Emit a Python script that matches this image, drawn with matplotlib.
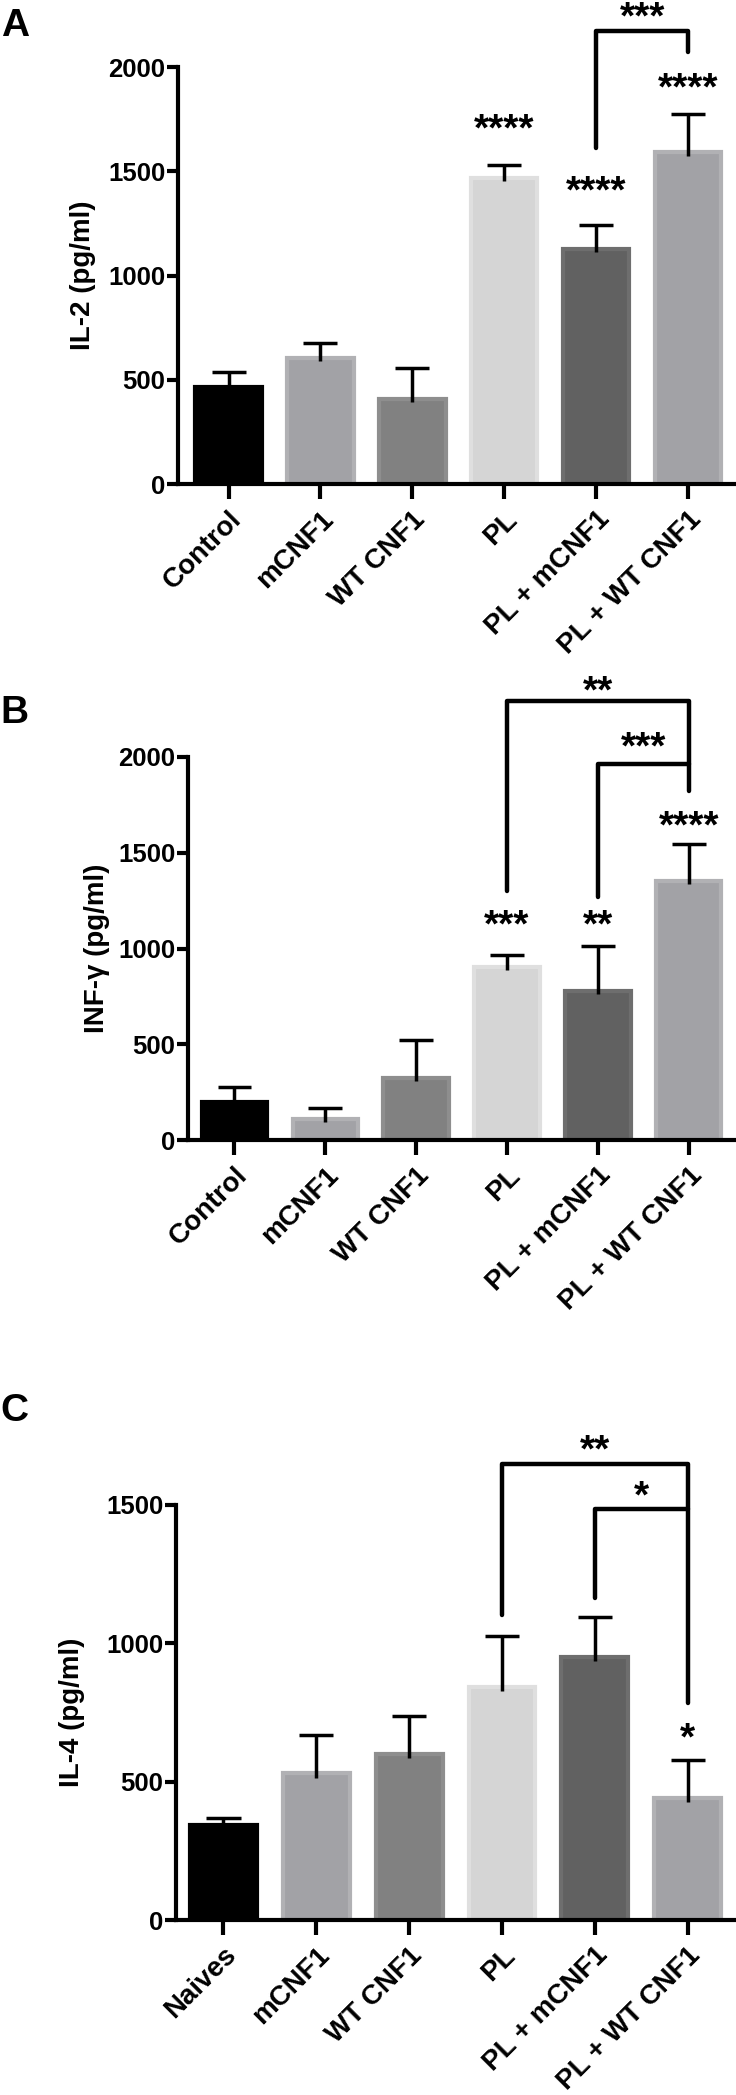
import matplotlib.pyplot as plt
import numpy as np

plt.rcParams['font.family'] = ['Liberation Sans', 'DejaVu Sans']
plt.rcParams['font.weight'] = 'bold'

groups_ab = ['Control', 'mCNF1', 'WT CNF1', 'PL', 'PL + mCNF1', 'PL + WT CNF1']
groups_c = ['Naives', 'mCNF1', 'WT CNF1', 'PL', 'PL + mCNF1', 'PL + WT CNF1']

il2_mean = [463, 606, 408, 1470, 1129, 1590]
il2_err = [75, 69, 146, 61, 113, 185]
inf_mean = [200, 109, 325, 903, 776, 1354]
inf_err = [78, 56, 199, 61, 238, 191]
il4_mean = [344, 530, 601, 843, 952, 442]
il4_err = [25, 137, 135, 185, 142, 136]

fill_colors = ['#000000', '#a2a2a6', '#818181', '#d5d5d5', '#616161', '#a2a2a6']
edge_colors = ['#000000', '#b1b1b4', '#8e8e8e', '#dfdfdf', '#6e6e6e', '#b1b1b4']

# stars over single bars: (bar, text, y)
stars_a = [(3, '****', 1743), (4, '****', 1446), (5, '****', 1938)]
stars_b = [(3, '***', 1167), (4, '**', 1167), (5, '****', 1684)]
stars_c = [(5, '*', 688)]

# brackets: (left bar, right bar, top, left leg end, right leg end, text, text y)
brackets_a = [(4, 5, 2172, 1611, 2072, '***', 2281)]
brackets_b = [(3, 5, 2292, 1302, 1962, '**', 2387),
              (4, 5, 1962, 1267, 1823, '***', 2097)]
brackets_c = [(3, 5, 1648, 1104, 1486, '**', 1727),
              (4, 5, 1486, 1165, 784, '*', 1562)]

fig = plt.figure(figsize=(7.36, 20.95), dpi=100)


def panel(rect, labels, means, errs, ymax, ylabel, stars, brackets, xleft, lab_x):
    ax = fig.add_axes(rect)
    x = np.arange(len(labels))
    means = np.array(means)
    tops = means + np.array(errs)
    ax.bar(x, means, width=0.72, color=fill_colors, edgecolor=edge_colors,
           linewidth=3, zorder=2)
    # upper error bars only
    ax.vlines(x, means - 15, tops, color='black', lw=2.5, zorder=3)
    ax.hlines(tops, x - 0.185, x + 0.185, color='black', lw=2.5, zorder=3)
    ax.set_xlim(xleft, 5.52)
    ax.set_ylim(0, ymax)
    ax.set_yticks(np.arange(0, ymax + 1, 500))
    ax.set_xticks(x)
    ax.set_xticklabels(labels, rotation=45, ha='right', va='top',
                       rotation_mode='anchor', fontsize=20, fontweight='bold')
    for t in ax.get_yticklabels():
        t.set_fontsize(18.5)
        t.set_fontweight('bold')
    for s in ['top', 'right']:
        ax.spines[s].set_visible(False)
    for s in ['left', 'bottom']:
        ax.spines[s].set_linewidth(3)
    ax.tick_params(axis='y', length=8, width=3, pad=1)
    ax.tick_params(axis='x', length=11, width=3, pad=5)
    ax.set_ylabel(ylabel, fontsize=20, fontweight='bold')
    ax.yaxis.set_label_coords(lab_x, 0.5)
    for i, txt, y in stars:
        ax.annotate(txt, xy=(i, y), xytext=(0, -7), textcoords='offset points',
                    ha='center', va='center', fontsize=28, fontweight='bold',
                    annotation_clip=False)
    for i, j, top, l_end, r_end, txt, ty in brackets:
        ax.plot([i, i, j, j], [l_end, top, top, r_end], color='black', lw=3.2,
                clip_on=False, solid_capstyle='round', zorder=4)
        ax.annotate(txt, xy=((i + j) / 2, ty), xytext=(0, -7),
                    textcoords='offset points', ha='center', va='center',
                    fontsize=28, fontweight='bold', annotation_clip=False)
    return ax


H = 2095.0
W = 736.0
panel([178 / W, 1 - 484 / H, (W - 178) / W, (484 - 67) / H], groups_ab,
      il2_mean, il2_err, 2000, 'IL-2 (pg/ml)', stars_a, brackets_a, -0.55, -0.147)
panel([188 / W, 1 - 1140 / H, (W - 188) / W, (1140 - 757) / H], groups_ab,
      inf_mean, inf_err, 2000, 'INF-γ (pg/ml)', stars_b, brackets_b, -0.51, -0.142)
panel([176 / W, 1 - 1920 / H, (W - 176) / W, (1920 - 1505) / H], groups_c,
      il4_mean, il4_err, 1500, 'IL-4 (pg/ml)', stars_c, brackets_c, -0.51, -0.163)

for letter, ytop in [('A', 8), ('B', 695), ('C', 1393)]:
    fig.text(0.001, 1 - ytop / H, letter, va='top', ha='left', fontsize=28,
             fontweight='bold')

fig.savefig('out.png', dpi=100)
